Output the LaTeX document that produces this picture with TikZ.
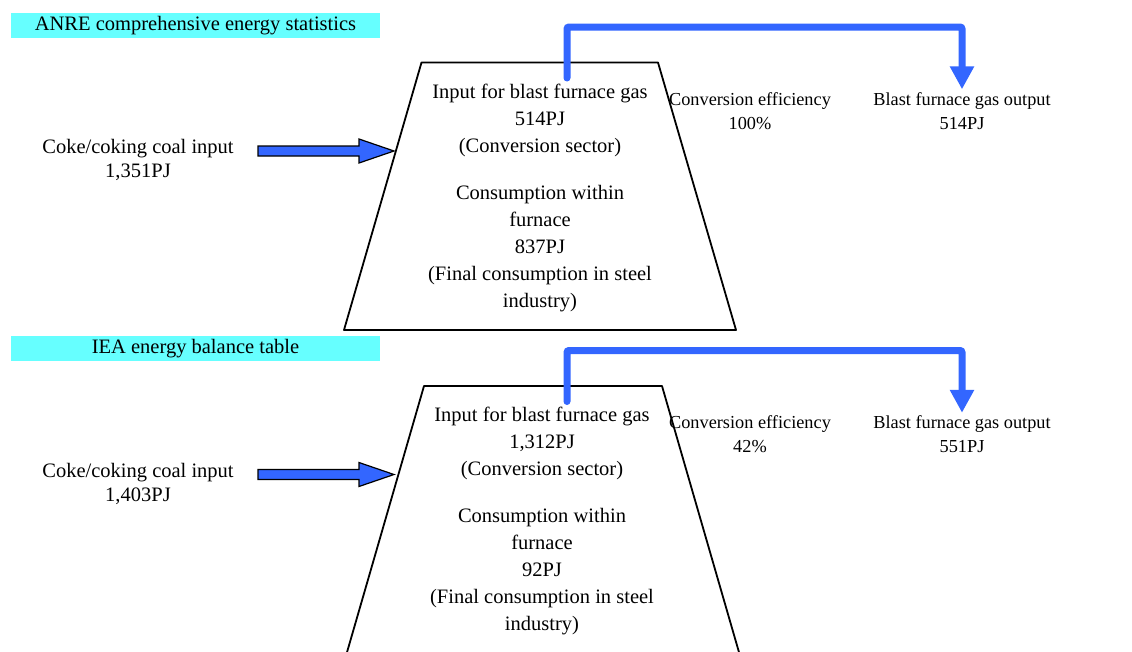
\documentclass[tikz,border=0pt]{standalone}
\usepackage{fontspec}
\setmainfont{Liberation Serif}
\usepackage{xcolor}
\definecolor{gasblue}{RGB}{51,102,255}
\definecolor{band}{RGB}{102,255,255}
\usepackage{tikz}
\usetikzlibrary{
    arrows.meta,
    positioning,
    calc
}

\begin{document}
\begin{tikzpicture}[
        x=1pt, y=-1pt,
        header/.style={rectangle, fill=band, minimum width=369pt, minimum height=25pt, inner sep=0pt, font=\fontsize{20.5}{24}\selectfont},
        label/.style={align=center, inner sep=0pt, font=\fontsize{18.3}{24}\selectfont},
        coke/.style={align=center, inner sep=0pt, font=\fontsize{20.5}{24}\selectfont},
        inside/.style={align=center, inner sep=0pt, font=\fontsize{20.5}{27}\selectfont},
        furnace/.style={draw, line width=1.8pt, line join=round},
        feed/.style={draw, fill=gasblue, line width=1.2pt, line join=miter},
        gasflow/.style={-{Triangle[width=23pt,length=23pt]}, line width=7pt, color=gasblue, line cap=round, rounded corners=2pt}
    ]
        \clip (0,0) rectangle (1132,651);

        % ANRE
        \node[header] (hA) at (195.5,25.5) {ANRE comprehensive energy statistics};
        \draw[furnace] (421.5,62.5) -- (658,62.5) -- (736,330) -- (344,330) -- cycle;
        \node[coke] (cokeA) at (138,160) {Coke/coking coal input\\1,351PJ};
        \coordinate (tipA) at (394,151);
        \draw[feed] (tipA) -- ++(-35,-12) -- ++(0,7) -- ++(-101,0) -- ++(0,10) -- ++(101,0) -- ++(0,7) -- cycle;
        \node[inside] (inA) at (540,120) {Input for blast furnace gas\\514PJ\\(Conversion sector)};
        \node[inside] (useA) at (540,248.5) {Consumption within\\furnace\\837PJ\\(Final consumption in steel\\industry)};
        \node[label] (effA) at (750,111) {Conversion efficiency\\100\%};
        \node[label] (outA) at (962,111) {Blast furnace gas output\\514PJ};
        \coordinate (srcA) at (567,78);
        \draw[gasflow] (srcA) -- ++(0,-51) -| ($(outA.north)+(0,-3)$);

        % IEA
        \node[header] (hB) at (195.5,348.5) {IEA energy balance table};
        \draw[furnace] (424,386) -- (662,386) -- (739.5,654) -- (346.5,654) -- cycle;
        \node[coke] (cokeB) at (138,483.5) {Coke/coking coal input\\1,403PJ};
        \coordinate (tipB) at (394,474.5);
        \draw[feed] (tipB) -- ++(-35,-12) -- ++(0,7) -- ++(-101,0) -- ++(0,10) -- ++(101,0) -- ++(0,7) -- cycle;
        \node[inside] (inB) at (542,443.5) {Input for blast furnace gas\\1,312PJ\\(Conversion sector)};
        \node[inside] (useB) at (542,572) {Consumption within\\furnace\\92PJ\\(Final consumption in steel\\industry)};
        \node[label] (effB) at (750,434.5) {Conversion efficiency\\42\%};
        \node[label] (outB) at (962,434.5) {Blast furnace gas output\\551PJ};
        \coordinate (srcB) at (567,401.5);
        \draw[gasflow] (srcB) -- ++(0,-51) -| ($(outB.north)+(0,-3)$);
    \end{tikzpicture}
\end{document}
